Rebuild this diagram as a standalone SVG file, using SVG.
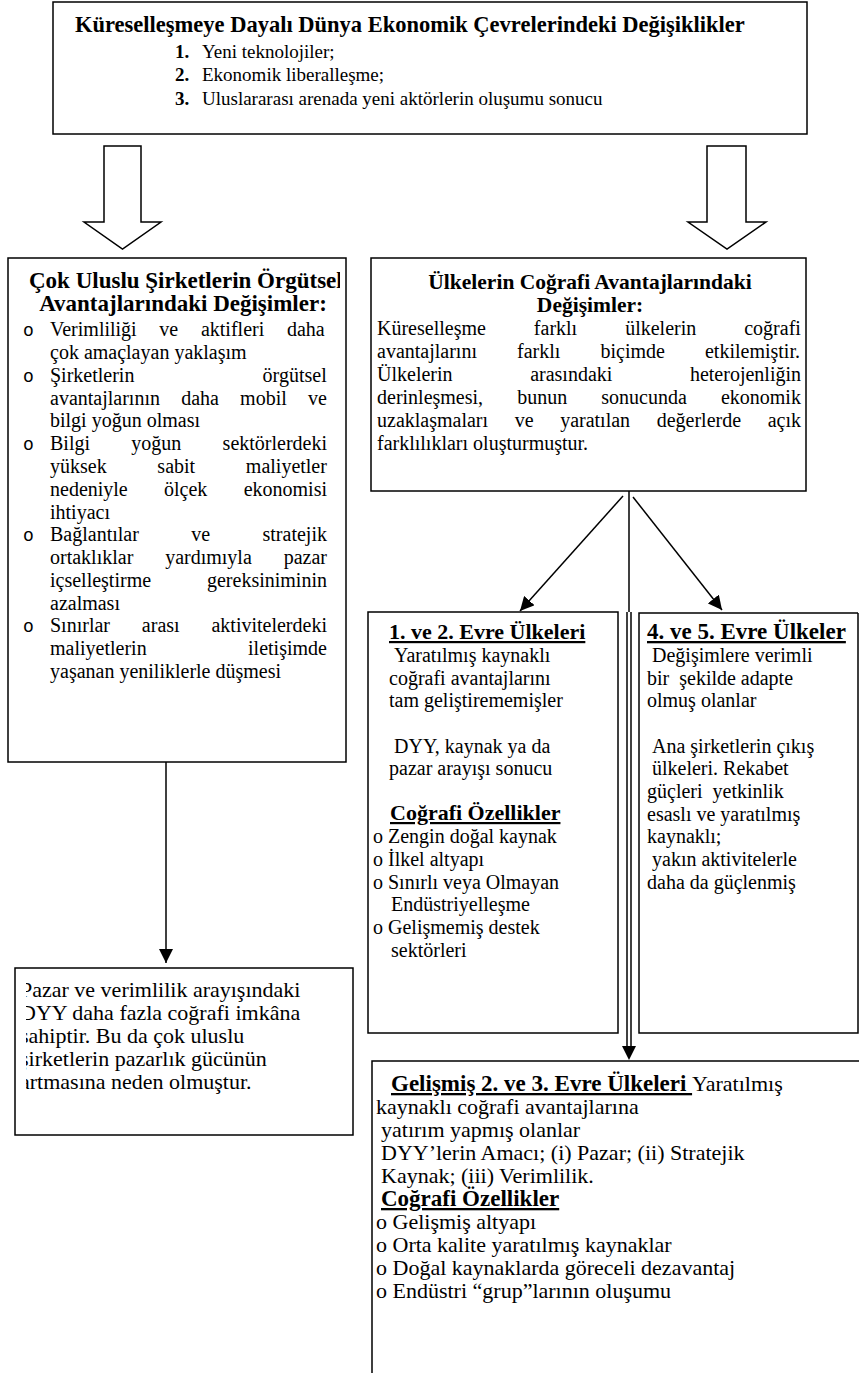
<svg xmlns="http://www.w3.org/2000/svg" width="859" height="1373" viewBox="0 0 859 1373">
<style>
.t{font-family:"Liberation Serif","Times New Roman",serif;font-size:20px;fill:#000}
.b{font-weight:bold}
.h{font-size:22px;font-weight:bold}
.h23{font-size:23px;font-weight:bold}
.s22{font-size:22px}
.s19{font-size:19px}
.u{text-decoration:underline}
.bul{font-family:"Liberation Mono","Courier New",monospace;font-size:18px}
.box{fill:#fff;stroke:#000;stroke-width:1.5}
.ln{fill:none;stroke:#000;stroke-width:1.5}
.blk{fill:#fff;stroke:#000;stroke-width:1.5;stroke-linejoin:miter}
</style>
<defs>
<marker id="ah2" viewBox="0 0 14 14" refX="14" refY="7" markerWidth="14" markerHeight="14" markerUnits="userSpaceOnUse" orient="auto"><path d="M0,0 L14,7 L0,14 z" fill="#000"/></marker>
<clipPath id="clipL"><rect x="9" y="259" width="331" height="502"/></clipPath>
<clipPath id="clipBL"><rect x="26" y="969" width="326" height="165"/></clipPath>
</defs>

<g id="connectors">
<polygon class="blk" points="104,146 141,146 141,222 161,222 122.5,249 84,222 104,222"/>
<polygon class="blk" points="707,146 746,146 746,222 766,222 727,249 688,222 707,222"/>
<line class="ln" x1="166" y1="762" x2="166" y2="963" marker-end="url(#ah2)"/>
<line class="ln" x1="623" y1="496" x2="520" y2="611" marker-end="url(#ah2)"/>
<line class="ln" x1="633" y1="497" x2="722" y2="610" marker-end="url(#ah2)"/>
<line class="ln" x1="629" y1="491" x2="629" y2="612"/>
<line class="ln" x1="627" y1="612" x2="627" y2="1047"/>
<line class="ln" x1="631" y1="612" x2="631" y2="1047"/>
<polygon points="622,1046 636,1046 629,1060" fill="#000"/>
</g>

<g id="top">
<rect class="box" x="53" y="2" width="754" height="132"/>
<text class="t h" x="75" y="32" style="font-size:22.5px">Küreselleşmeye Dayalı Dünya Ekonomik Çevrelerindeki Değişiklikler</text>
<text class="t b s19" x="175" y="58">1.</text><text class="t s19" x="202" y="58">Yeni teknolojiler;</text>
<text class="t b s19" x="175" y="81">2.</text><text class="t s19" x="202" y="81">Ekonomik liberalleşme;</text>
<text class="t b s19" x="175" y="105">3.</text><text class="t s19" x="202" y="105">Uluslararası arenada yeni aktörlerin oluşumu sonucu</text>
</g>

<g id="left">
<rect class="box" x="8" y="258" width="338" height="504"/>
<g clip-path="url(#clipL)">
<text class="t h23" x="29" y="288">Çok Uluslu Şirketlerin Örgütsel</text>
</g>
<text class="t h23" x="183" y="311" text-anchor="middle">Avantajlarındaki Değişimler:</text>
<text class="t bul" x="23" y="336">o</text>
<text class="t" x="50" y="336" word-spacing="17.7">Verimliliği ve aktifleri daha</text>
<text class="t" x="50" y="359">çok amaçlayan yaklaşım</text>
<text class="t bul" x="23" y="382">o</text>
<text class="t" x="50" y="382" word-spacing="123.2">Şirketlerin örgütsel</text>
<text class="t" x="50" y="405" word-spacing="16.2">avantajlarının daha mobil ve</text>
<text class="t" x="50" y="427">bilgi yoğun olması</text>
<text class="t bul" x="23" y="450">o</text>
<text class="t" x="50" y="450" word-spacing="36.3">Bilgi yoğun sektörlerdeki</text>
<text class="t" x="50" y="473" word-spacing="45.7">yüksek sabit maliyetler</text>
<text class="t" x="50" y="496" word-spacing="31.3">nedeniyle ölçek ekonomisi</text>
<text class="t" x="50" y="519">ihtiyacı</text>
<text class="t bul" x="23" y="541">o</text>
<text class="t" x="50" y="541" word-spacing="47.4">Bağlantılar ve stratejik</text>
<text class="t" x="50" y="564" word-spacing="26.85">ortaklıklar yardımıyla pazar</text>
<text class="t" x="50" y="587" word-spacing="50.9">içselleştirme gereksiniminin</text>
<text class="t" x="50" y="610">azalması</text>
<text class="t bul" x="23" y="632">o</text>
<text class="t" x="50" y="632" word-spacing="26.85">Sınırlar arası aktivitelerdeki</text>
<text class="t" x="50" y="655" word-spacing="96.4">maliyetlerin iletişimde</text>
<text class="t" x="50" y="678">yaşanan yeniliklerle düşmesi</text>
</g>

<g id="right">
<rect class="box" x="371" y="258" width="435" height="233"/>
<text class="t h" x="590" y="289" text-anchor="middle" style="font-size:21.5px">Ülkelerin Coğrafi Avantajlarındaki</text>
<text class="t h" x="590" y="312" text-anchor="middle" style="font-size:21.5px">Değişimler:</text>
<text class="t" x="377" y="335" word-spacing="43">Küreselleşme farklı ülkelerin coğrafi</text>
<text class="t" x="377" y="358" word-spacing="35.1">avantajlarını farklı biçimde etkilemiştir.</text>
<text class="t" x="377" y="381" word-spacing="72.6">Ülkelerin arasındaki heterojenliğin</text>
<text class="t" x="377" y="404" word-spacing="29.1">derinleşmesi, bunun sonucunda ekonomik</text>
<text class="t" x="377" y="427" word-spacing="21.6">uzaklaşmaları ve yaratılan değerlerde açık</text>
<text class="t" x="377" y="450">farklılıkları oluşturmuştur.</text>
</g>

<g id="stage12">
<rect class="box" x="368" y="612" width="250" height="421"/>
<text class="t h u" x="389" y="639">1. ve 2. Evre Ülkeleri</text>
<text class="t" x="394" y="662">Yaratılmış kaynaklı</text>
<text class="t" x="389" y="685">coğrafi avantajlarını</text>
<text class="t" x="389" y="707">tam geliştirememişler</text>
<text class="t" x="394" y="753">DYY, kaynak ya da</text>
<text class="t" x="389" y="775">pazar arayışı sonucu</text>
<text class="t h u" x="390" y="820">Coğrafi Özellikler</text>
<text class="t" x="373" y="843">o Zengin doğal kaynak</text>
<text class="t" x="373" y="866">o İlkel altyapı</text>
<text class="t" x="373" y="889">o Sınırlı veya Olmayan</text>
<text class="t" x="391" y="911">Endüstriyelleşme</text>
<text class="t" x="373" y="934">o Gelişmemiş destek</text>
<text class="t" x="391" y="957">sektörleri</text>
</g>

<g id="stage45">
<path class="ln" d="M858,613 H639 V1033 H858 V613"/>
<text class="t h23 u" x="647" y="639">4. ve 5. Evre Ülkeler</text>
<text class="t" x="652" y="662">Değişimlere verimli</text>
<text class="t" x="647" y="685" xml:space="preserve">bir  şekilde adapte</text>
<text class="t" x="647" y="707">olmuş olanlar</text>
<text class="t" x="652" y="753">Ana şirketlerin çıkış</text>
<text class="t" x="652" y="775">ülkeleri. Rekabet</text>
<text class="t" x="647" y="798" xml:space="preserve">güçleri  yetkinlik</text>
<text class="t" x="647" y="821">esaslı ve yaratılmış</text>
<text class="t" x="647" y="843">kaynaklı;</text>
<text class="t" x="652" y="866">yakın aktivitelerle</text>
<text class="t" x="647" y="889">daha da güçlenmiş</text>
</g>

<g id="result">
<rect class="box" x="15" y="968" width="338" height="167"/>
<g clip-path="url(#clipBL)">
<text class="t s22" x="20" y="997">Pazar ve verimlilik arayışındaki</text>
<text class="t s22" x="20" y="1020">DYY daha fazla coğrafi imkâna</text>
<text class="t s22" x="20" y="1043">sahiptir. Bu da çok uluslu</text>
<text class="t s22" x="20" y="1066">şirketlerin pazarlık gücünün</text>
<text class="t s22" x="20" y="1089">artmasına neden olmuştur.</text>
</g>
</g>

<g id="advanced">
<path class="ln" d="M859,1061 H372 V1373"/>
<text class="t s22" x="391" y="1091"><tspan class="h23 u">Gelişmiş 2. ve 3. Evre Ülkeleri </tspan>Yaratılmış</text>
<text class="t s22" x="376" y="1114">kaynaklı coğrafi avantajlarına</text>
<text class="t s22" x="381" y="1137">yatırım yapmış olanlar</text>
<text class="t s22" x="381" y="1160">DYY’lerin Amacı; (i) Pazar; (ii) Stratejik</text>
<text class="t s22" x="381" y="1183">Kaynak; (iii) Verimlilik.</text>
<text class="t h23 u" x="381" y="1206">Coğrafi Özellikler</text>
<text class="t s22" x="376" y="1229">o Gelişmiş altyapı</text>
<text class="t s22" x="376" y="1252">o Orta kalite yaratılmış kaynaklar</text>
<text class="t s22" x="376" y="1275">o Doğal kaynaklarda göreceli dezavantaj</text>
<text class="t s22" x="376" y="1298">o Endüstri “grup”larının oluşumu</text>
</g>
</svg>
